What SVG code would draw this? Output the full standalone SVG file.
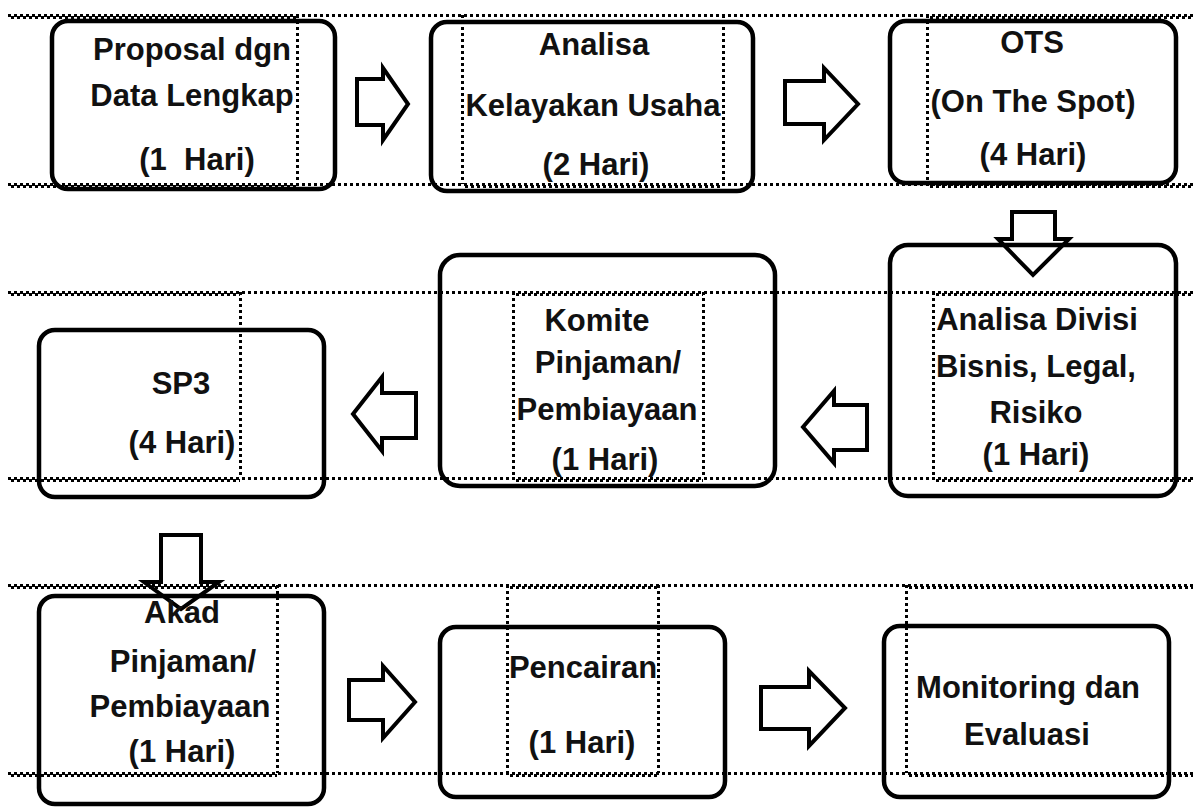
<svg xmlns="http://www.w3.org/2000/svg" width="1193" height="807" viewBox="0 0 1193 807">
<style>
.box{fill:none;stroke:#000;stroke-width:4.5}
.arr{fill:#fff;stroke:#000;stroke-width:4;stroke-linejoin:miter}
.dot{stroke:#000;stroke-width:3;stroke-dasharray:3 3;fill:none;shape-rendering:crispEdges}
.dot2{stroke:#000;stroke-width:3;stroke-dasharray:3 3;stroke-dashoffset:3;fill:none;shape-rendering:crispEdges}
.t{font-family:"Liberation Sans",Arial,sans-serif;font-weight:bold;font-size:31px;fill:#111;text-anchor:middle}
</style>
<rect width="1193" height="807" fill="#fff"/>
<g id="connectors">
<polygon class="arr" points="357,79 383,79 383,68 408,104 383,140 383,125 357,125"/>
<polygon class="arr" points="785,81 824,81 824,68 858,104 824,140 824,124 785,124"/>
<polygon class="arr" points="1012,212 1055,212 1055,239 1069,239 1033,275 998,239 1012,239"/>
<polygon class="arr" points="803,427 834,391 834,405 867,405 867,450 834,450 834,463"/>
<polygon class="arr" points="353,414 382,377 382,393 416,393 416,438 382,438 382,451"/>
<polygon class="arr" points="161,535 201,535 201,582 219,582 181,609 144,582 161,582"/>
<polygon class="arr" points="349,680 383,680 383,666 415,702 383,738 383,720 349,720"/>
<polygon class="arr" points="761,687 809,687 809,671 845,708 809,746 809,729 761,729"/>
</g>
<g id="frames">
<rect id="r1" class="box" x="52" y="21" width="283" height="168" rx="16"/>
<rect id="r2" class="box" x="431" y="22" width="322" height="169" rx="16"/>
<rect id="r3" class="box" x="890" y="21" width="286" height="162" rx="16"/>
<rect id="r4" class="box" x="890" y="245" width="286" height="251" rx="18"/>
<rect id="r5" class="box" x="440" y="255" width="335" height="231" rx="20"/>
<rect id="r6" class="box" x="39" y="330" width="285" height="167" rx="16"/>
<rect id="r7" class="box" x="39" y="596" width="285" height="208" rx="16"/>
<rect id="r8" class="box" x="440" y="627" width="285" height="170" rx="16"/>
<rect id="r9" class="box" x="884" y="626" width="285" height="171" rx="16"/>
</g>
<g id="textbox-borders">
<line class="dot" x1="8" y1="15.5" x2="1193" y2="15.5"/>
<line class="dot" x1="8" y1="184.5" x2="1193" y2="184.5"/>
<line class="dot2" x1="8" y1="17.5" x2="297" y2="17.5"/>
<line class="dot2" x1="8" y1="186.5" x2="297" y2="186.5"/>
<line class="dot2" x1="462" y1="186.5" x2="723" y2="186.5"/>
<line class="dot2" x1="927" y1="17.5" x2="1193" y2="17.5"/>
<line class="dot2" x1="927" y1="186.5" x2="1193" y2="186.5"/>
<line class="dot" x1="297.5" y1="15" x2="297.5" y2="184"/>
<line class="dot" x1="462.5" y1="15" x2="462.5" y2="184"/>
<line class="dot" x1="723.5" y1="15" x2="723.5" y2="184"/>
<line class="dot" x1="927.5" y1="15" x2="927.5" y2="184"/>

<line class="dot" x1="8" y1="292.5" x2="1193" y2="292.5"/>
<line class="dot" x1="8" y1="478.5" x2="1193" y2="478.5"/>
<line class="dot2" x1="8" y1="294.5" x2="240" y2="294.5"/>
<line class="dot2" x1="8" y1="480.5" x2="240" y2="480.5"/>
<line class="dot2" x1="513" y1="294.5" x2="703" y2="294.5"/>
<line class="dot2" x1="513" y1="480.5" x2="703" y2="480.5"/>
<line class="dot2" x1="933" y1="294.5" x2="1193" y2="294.5"/>
<line class="dot2" x1="933" y1="480.5" x2="1193" y2="480.5"/>
<line class="dot" x1="240.5" y1="292" x2="240.5" y2="478"/>
<line class="dot" x1="513.5" y1="292" x2="513.5" y2="478"/>
<line class="dot" x1="703.5" y1="292" x2="703.5" y2="478"/>
<line class="dot" x1="933.5" y1="292" x2="933.5" y2="478"/>

<line class="dot" x1="8" y1="585.5" x2="1193" y2="585.5"/>
<line class="dot" x1="8" y1="773.5" x2="1193" y2="773.5"/>
<line class="dot2" x1="8" y1="587.5" x2="277" y2="587.5"/>
<line class="dot2" x1="8" y1="775.5" x2="277" y2="775.5"/>
<line class="dot2" x1="507" y1="587.5" x2="658" y2="587.5"/>
<line class="dot2" x1="507" y1="775.5" x2="658" y2="775.5"/>
<line class="dot2" x1="906" y1="587.5" x2="1193" y2="587.5"/>
<line class="dot2" x1="906" y1="775.5" x2="1193" y2="775.5"/>
<line class="dot" x1="277.5" y1="585" x2="277.5" y2="773"/>
<line class="dot" x1="507.5" y1="585" x2="507.5" y2="773"/>
<line class="dot" x1="658.5" y1="585" x2="658.5" y2="773"/>
<line class="dot" x1="906.5" y1="585" x2="906.5" y2="773"/>
</g>
<g id="n1"><text class="t" x="192" y="60">Proposal dgn</text><text class="t" x="192" y="106">Data Lengkap</text><text class="t" x="197" y="170" xml:space="preserve">(1  Hari)</text></g>
<g id="n2"><text class="t" x="594" y="55">Analisa</text><text class="t" x="593" y="116">Kelayakan Usaha</text><text class="t" x="596" y="175">(2 Hari)</text></g>
<g id="n3"><text class="t" x="1032" y="53">OTS</text><text class="t" x="1033" y="112">(On The Spot)</text><text class="t" x="1033" y="165">(4 Hari)</text></g>
<g id="n4"><text class="t" x="1037" y="330">Analisa Divisi</text><text class="t" x="1036" y="377">Bisnis, Legal,</text><text class="t" x="1036" y="423">Risiko</text><text class="t" x="1036" y="465">(1 Hari)</text></g>
<g id="n5"><text class="t" x="597" y="331">Komite</text><text class="t" x="608" y="373">Pinjaman/</text><text class="t" x="607" y="420">Pembiayaan</text><text class="t" x="605" y="470">(1 Hari)</text></g>
<g id="n6"><text class="t" x="181" y="394">SP3</text><text class="t" x="182" y="453">(4 Hari)</text></g>
<g id="n7"><text class="t" x="182" y="623">Akad</text><text class="t" x="183" y="672">Pinjaman/</text><text class="t" x="180" y="717">Pembiayaan</text><text class="t" x="182" y="762">(1 Hari)</text></g>
<g id="n8"><text class="t" x="583" y="678">Pencairan</text><text class="t" x="582" y="753">(1 Hari)</text></g>
<g id="n9"><text class="t" x="1028" y="698">Monitoring dan</text><text class="t" x="1027" y="745">Evaluasi</text></g>
</svg>
